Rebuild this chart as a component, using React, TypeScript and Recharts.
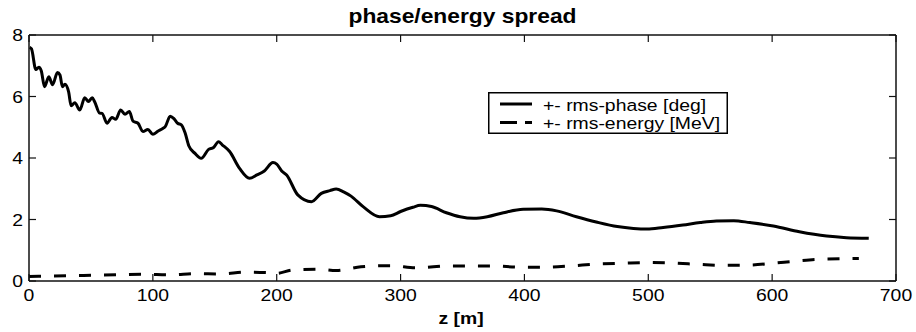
import { LineChart, Line, XAxis, YAxis, Legend } from 'recharts'

// ── data ──

const zPhase = [
  0.5, 2, 5.5, 8, 10, 12.5, 16, 19, 23, 25, 27, 29, 32, 34, 37, 41, 45, 48, 51, 53,
  57, 59, 63, 67, 70, 74, 77.5, 81, 84, 88, 92, 96, 100, 104, 108, 110, 114, 117, 120, 123,
  126, 129, 134, 139, 145, 149, 153, 156, 162, 170, 178, 184, 190, 197, 200, 204, 208, 217, 228, 236,
  243, 248, 254, 260, 270, 283, 292, 300, 310, 316, 325, 337, 348, 359, 370, 383, 399, 414, 426, 442,
  458, 475, 488, 499, 512, 528, 542, 555, 569, 582, 601, 622, 644, 660, 678,
]
const rmsPhase = [
  7.6, 7.55, 6.88, 6.95, 6.82, 6.32, 6.64, 6.38, 6.78, 6.7, 6.32, 6.4, 6.15, 5.7, 5.8, 5.56, 5.96, 5.84, 5.96, 5.83,
  5.46, 5.45, 5.13, 5.32, 5.26, 5.56, 5.42, 5.51, 5.2, 5.13, 4.86, 4.93, 4.77, 4.87, 4.96, 5.02, 5.36, 5.28, 5.13, 5.08,
  4.82, 4.4, 4.15, 3.99, 4.28, 4.34, 4.53, 4.43, 4.21, 3.66, 3.34, 3.45, 3.58, 3.85, 3.8, 3.58, 3.45, 2.8, 2.58, 2.85,
  2.94, 2.99, 2.9, 2.76, 2.41, 2.09, 2.12, 2.26, 2.4, 2.46, 2.42, 2.22, 2.09, 2.04, 2.09, 2.22, 2.33, 2.34, 2.28, 2.09,
  1.92, 1.77, 1.71, 1.69, 1.74, 1.82, 1.9, 1.95, 1.96, 1.9, 1.79, 1.6, 1.46, 1.41, 1.39,
]

const zEnergy = [
  0, 17, 44, 71, 92, 114, 135, 154, 176, 195, 200, 213, 235, 248, 268, 292, 313, 340, 372, 399,
  415, 437, 458, 480, 501, 521, 541, 561, 582, 601, 620, 641, 670,
]
const rmsEnergy = [
  0.15, 0.16, 0.18, 0.2, 0.22, 0.2, 0.24, 0.23, 0.29, 0.27, 0.25, 0.36, 0.38, 0.34, 0.46, 0.5, 0.43, 0.49, 0.49, 0.45,
  0.45, 0.49, 0.55, 0.58, 0.6, 0.58, 0.54, 0.51, 0.52, 0.58, 0.65, 0.71, 0.73,
]

const xTicks = [0, 100, 200, 300, 400, 500, 600, 700]
const yTicks = [0, 2, 4, 6, 8]

const phaseData = zPhase.map((z, i) => ({ z, v: rmsPhase[i] }))
const energyData = zEnergy.map((z, i) => ({ z, v: rmsEnergy[i] }))

const FONT = '"Liberation Sans", Arial, Helvetica, sans-serif'
const STRETCH = 1.14
const AXIS = '#111'

// text is a bit wider than tall in the reference, so stretch it horizontally
function XTick(props: any) {
  const { x, y, payload } = props
  return (
    <text transform={`translate(${x},${y}) scale(${STRETCH},1)`} textAnchor="middle" dy="0.71em"
      fontSize={17} fontFamily={FONT} fill="#000">
      {payload.value}
    </text>
  )
}

function YTick(props: any) {
  const { x, y, payload } = props
  return (
    <text transform={`translate(${x},${y}) scale(${STRETCH},1)`} textAnchor="end" dy="0.355em"
      fontSize={17} fontFamily={FONT} fill="#000">
      {payload.value}
    </text>
  )
}

// frame axes: tick marks only, no labels
const NoLabel = () => <g />

function LegendBox() {
  return (
    <svg width={240} height={42} style={{ display: 'block', overflow: 'visible' }}>
      <rect x={0.75} y={0.75} width={238.5} height={40.5} fill="#fff" stroke="#000" strokeWidth={1.5} />
      <line x1={12} x2={44} y1={12} y2={12} stroke="#000" strokeWidth={3} />
      <line x1={12} x2={44} y1={30.5} y2={30.5} stroke="#000" strokeWidth={3} strokeDasharray="17 8" />
      <text transform={`translate(55,18.5) scale(${STRETCH},1)`} fontSize={17} fontFamily={FONT} fill="#000">
        +- rms-phase [deg]
      </text>
      <text transform={`translate(55,37) scale(${STRETCH},1)`} fontSize={17} fontFamily={FONT} fill="#000">
        +- rms-energy [MeV]
      </text>
    </svg>
  )
}

export default function App() {
  return (
    <div style={{ position: 'absolute', left: 0, top: 0, width: 916, height: 332, background: '#fff' }}>
      <LineChart width={916} height={332} margin={{ top: 34, right: 19, bottom: 0, left: 0 }}>
        <XAxis
          xAxisId="b"
          dataKey="z"
          type="number"
          domain={[0, 700]}
          ticks={xTicks}
          allowDataOverflow
          height={51}
          tickSize={-7}
          tickMargin={15}
          tick={XTick}
          axisLine={{ stroke: AXIS, strokeWidth: 1.5 }}
          tickLine={{ stroke: AXIS, strokeWidth: 1.2 }}
        />
        <XAxis
          xAxisId="t"
          orientation="top"
          dataKey="z"
          type="number"
          domain={[0, 700]}
          ticks={xTicks}
          allowDataOverflow
          height={1}
          tickSize={-7}
          tick={NoLabel}
          axisLine={{ stroke: AXIS, strokeWidth: 1.5 }}
          tickLine={{ stroke: AXIS, strokeWidth: 1.2 }}
        />
        <YAxis
          yAxisId="l"
          type="number"
          domain={[0, 8]}
          ticks={yTicks}
          allowDataOverflow
          width={29}
          tickSize={-7}
          tickMargin={13}
          tick={YTick}
          axisLine={{ stroke: AXIS, strokeWidth: 1.5 }}
          tickLine={{ stroke: AXIS, strokeWidth: 1.2 }}
        />
        <YAxis
          yAxisId="r"
          orientation="right"
          type="number"
          domain={[0, 8]}
          ticks={yTicks}
          allowDataOverflow
          width={1}
          tickSize={-7}
          tick={NoLabel}
          axisLine={{ stroke: AXIS, strokeWidth: 1.5 }}
          tickLine={{ stroke: AXIS, strokeWidth: 1.2 }}
        />
        <Legend
          layout="vertical"
          align="center"
          verticalAlign="middle"
          content={() => <LegendBox />}
          wrapperStyle={{ left: 488, top: 92, width: 240, height: 42 }}
        />
        {/* invisible copy so the top / right frame axes have a series */}
        <Line
          xAxisId="t"
          yAxisId="r"
          data={phaseData}
          dataKey="v"
          stroke="none"
          dot={false}
          legendType="none"
          isAnimationActive={false}
        />
        <Line
          xAxisId="b"
          yAxisId="l"
          data={phaseData}
          dataKey="v"
          name="+- rms-phase [deg]"
          type="monotone"
          stroke="#000"
          strokeWidth={3}
          dot={false}
          isAnimationActive={false}
        />
        <Line
          xAxisId="b"
          yAxisId="l"
          data={energyData}
          dataKey="v"
          name="+- rms-energy [MeV]"
          type="monotone"
          stroke="#000"
          strokeWidth={3}
          strokeDasharray="12 13"
          dot={false}
          isAnimationActive={false}
        />
      </LineChart>
      <svg width={916} height={332} style={{ position: 'absolute', left: 0, top: 0, pointerEvents: 'none' }}>
        <text transform={`translate(462.5,22.7) scale(${STRETCH},1)`} textAnchor="middle"
          fontSize={20} fontWeight="bold" fontFamily={FONT} fill="#000">
          phase/energy spread
        </text>
        <text transform={`translate(461,323.5) scale(${STRETCH},1)`} textAnchor="middle"
          fontSize={17} fontWeight="bold" fontFamily={FONT} fill="#000">
          z [m]
        </text>
      </svg>
    </div>
  )
}
